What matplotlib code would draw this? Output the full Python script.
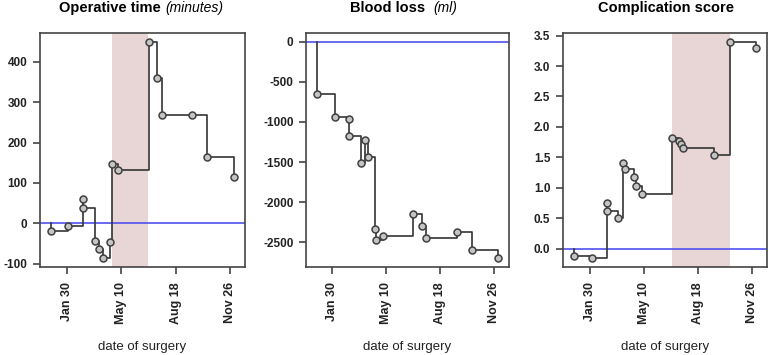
import numpy as np
import matplotlib
matplotlib.use('Agg')
import matplotlib.pyplot as plt

plt.rcParams['font.family'] = ['Liberation Sans', 'DejaVu Sans']
plt.rcParams['axes.unicode_minus'] = False

# x positions are day of year
tick_days = [30, 130, 230, 330]
tick_labels = ['Jan 30', 'May 10', 'Aug 18', 'Nov 26']

op_days = [1, 32, 59, 59, 82, 89, 96, 109, 113, 124, 181, 196, 205, 260, 288, 336]
op_vals = [-20, -7, 60, 38, -45, -65, -87, -47, 148, 133, 450, 360, 269, 269, 163, 114]
op_shade = (113, 179)

bl_days = [2, 34, 61, 61, 82, 91, 96, 109, 111, 124, 179, 195, 203, 260, 288, 336]
bl_vals = [-647, -933, -958, -1180, -1517, -1231, -1443, -2338, -2475, -2425,
           -2152, -2300, -2450, -2376, -2600, -2700]

cs_days = [2, 34, 63, 63, 82, 91, 96, 111, 115, 126, 181, 194, 199, 203, 260, 288, 337]
cs_vals = [-0.12, -0.16, 0.75, 0.61, 0.51, 1.41, 1.30, 1.17, 1.03, 0.90,
           1.81, 1.77, 1.72, 1.66, 1.53, 3.40, 3.29]
cs_shade = (181, 288)

W, H = 769, 355
fig = plt.figure(figsize=(W/100, H/100), dpi=100)
fig.patch.set_facecolor('white')

edge = '#444444'


def panel(px_left, px_right, days, vals, yticks, yfmt, shade=None):
    ax = fig.add_axes([px_left/W, (H-267)/H, (px_right-px_left)/W, 234/H])
    lo = min(min(vals), 0)
    hi = max(max(vals), 0)
    pad = 0.04*(hi-lo)
    ax.set_ylim(lo-pad, hi+pad)
    ax.set_xlim(-19, 357)
    if shade is not None:
        ax.axvspan(shade[0], shade[1], color='#e8d5d6', lw=0, zorder=0)
    ax.axhline(0, color='#5050f0', lw=1.2, zorder=1)
    ax.plot([days[0]] + list(days), [0] + list(vals), drawstyle='steps-post',
            color='#333333', lw=1.2, zorder=2)
    ax.plot(days, vals, 'o', ms=5, mfc='#c4c4c4', mec='#404040', mew=1.1, zorder=3)
    ax.set_xticks(tick_days)
    ax.set_xticklabels(tick_labels, rotation=90)
    ax.set_yticks(yticks)
    ax.set_yticklabels([yfmt.format(v) for v in yticks])
    for s in ax.spines.values():
        s.set_color(edge)
        s.set_linewidth(1.2)
    ax.tick_params(direction='out', length=5, width=1.2, color=edge,
                   labelsize=8.5, pad=4, labelcolor='#222222')
    ax.tick_params(axis='x', labelsize=9, pad=6)
    for lab in ax.get_xticklabels() + ax.get_yticklabels():
        lab.set_fontweight('bold')
    cx = (px_left + px_right) / 2
    fig.text(cx/W, 1 - 347/H, 'date of surgery', ha='center', va='center',
             fontsize=9.5, color='#222222')
    return ax


panel(40, 245, op_days, op_vals, [-100, 0, 100, 200, 300, 400], '{:.0f}', op_shade)
panel(306, 509, bl_days, bl_vals, [-2500, -2000, -1500, -1000, -500, 0], '{:.0f}')
panel(563, 767, cs_days, cs_vals, [0.0, 0.5, 1.0, 1.5, 2.0, 2.5, 3.0, 3.5], '{:.1f}', cs_shade)

ty = 1 - 8/H
fig.text(161/W, ty, 'Operative time', ha='right', va='center', fontsize=10.5, fontweight='bold')
fig.text(165/W, ty, '(minutes)', ha='left', va='center', fontsize=10, style='italic')
fig.text(425/W, ty, 'Blood loss', ha='right', va='center', fontsize=10.5, fontweight='bold')
fig.text(433/W, ty, '(ml)', ha='left', va='center', fontsize=10, style='italic')
fig.text(666/W, ty, 'Complication score', ha='center', va='center', fontsize=10.5, fontweight='bold')

fig.savefig('out.png', dpi=100)
